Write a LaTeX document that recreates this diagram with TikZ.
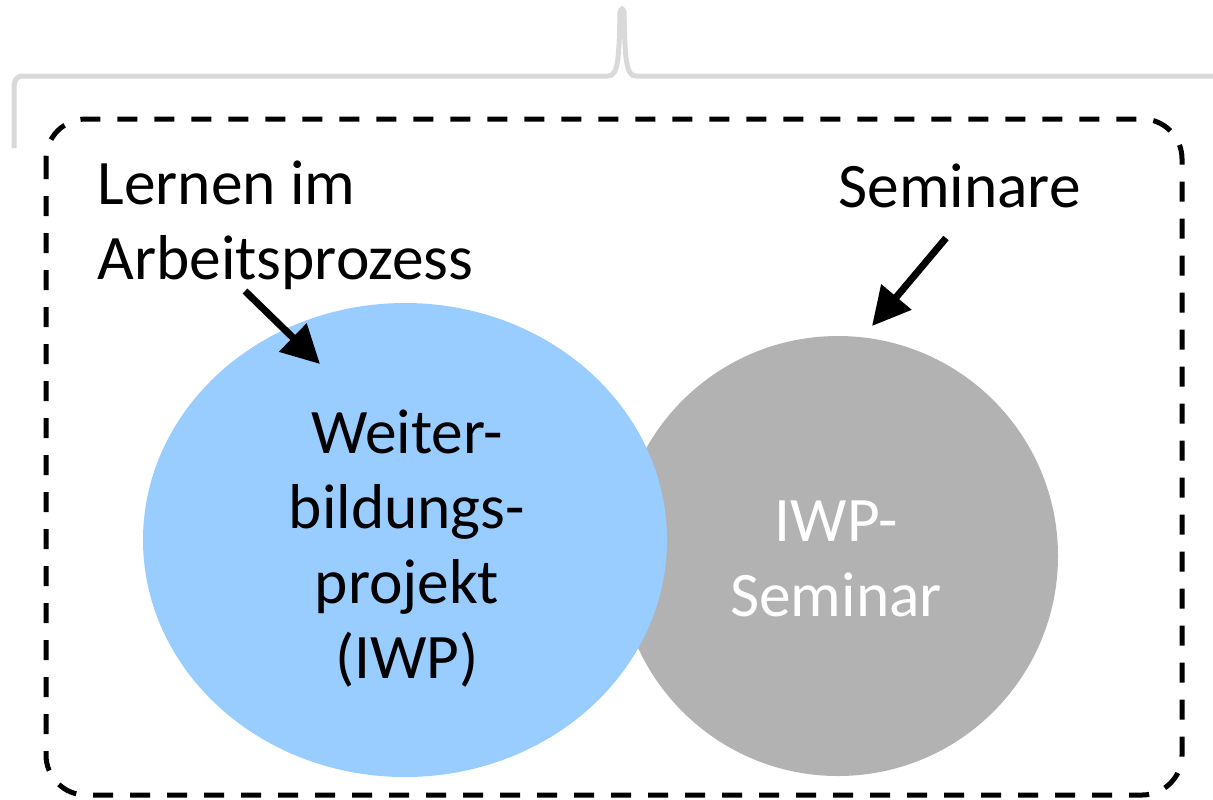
\documentclass[tikz,border=0pt]{standalone}
\usepackage{fontspec}
\setmainfont{Carlito}
\usetikzlibrary{arrows.meta}
\definecolor{bracegray}{HTML}{D9D9D9}
\definecolor{iwpblue}{HTML}{99CCFF}
\definecolor{semgray}{HTML}{B2B2B2}
\begin{document}
\begin{tikzpicture}[x=0.5pt,y=-0.5pt,
  lbl/.style={inner sep=0pt,font=\fontsize{31.7}{37.5}\selectfont},
  pointer/.style={line width=3.5pt,-{Triangle[length=19pt,width=19pt]}},
  bracestyle/.style={draw=bracegray,line width=2.5pt},
  framebox/.style={draw=black,line width=2.5pt,dash pattern=on 10pt off 8.5pt,rounded corners=20pt}]
\useasboundingbox (0,0) rectangle (1213,799);
% brace
\draw[bracestyle] (14,148) -- (14,88) .. controls (14,80) and (16,76) .. (24,76) -- (608,76)
  .. controls (618,76) and (619,60) .. (620,12) .. controls (621,8) and (623,8) .. (624,12)
  .. controls (625,60) and (626,76) .. (636,76) -- (1220,76);
% frame
\draw[framebox] (46,119) rectangle (1182,795);
% circles
\node (sem) [circle,fill=semgray,minimum size=220pt,inner sep=0pt] at (838,556) {};
\fill[iwpblue] (405,540) ellipse [x radius=262,y radius=237];
\node (iwp) [inner sep=0pt,minimum width=262pt,minimum height=237pt] at (405,540) {};
% labels
\node (lern) [lbl,anchor=north west,align=left] at (97,160) {Lernen im\\Arbeitsprozess};
\node (semlbl) [lbl,anchor=north west] at (838,163) {Seminare};
\node (iwptext) [lbl,anchor=north,align=center] at (407,409) {Weiter-\\bildungs-\\projekt\\(IWP)};
\node (semtext) [lbl,anchor=north,align=center,text=white] at (836,500) {IWP-\\Seminar};
% arrows
\coordinate (a1s) at (245,291);
\coordinate (a1e) at (320,364);
\coordinate (a2s) at (946,238);
\coordinate (a2e) at (872,326);
\draw[pointer] (a1s) -- (a1e);
\draw[pointer] (a2s) -- (a2e);
\end{tikzpicture}
\end{document}
